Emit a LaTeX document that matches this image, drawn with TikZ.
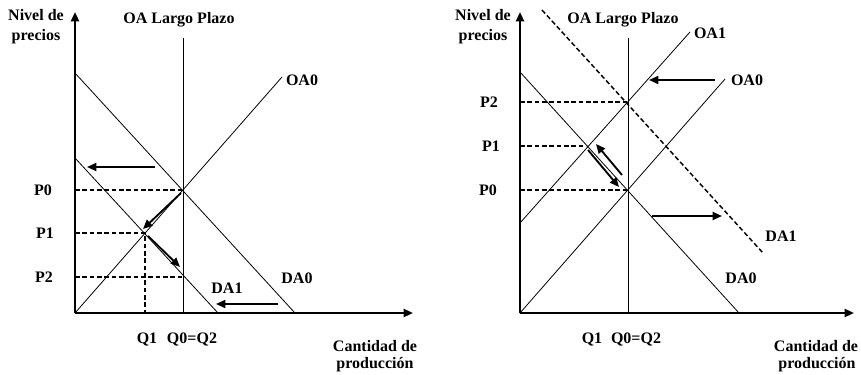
\documentclass[tikz,border=0pt]{standalone}
\usepackage{fontspec}
\setmainfont{Liberation Serif}
\usepackage{tikz}
\usetikzlibrary{positioning,arrows.meta}

\tikzset{
  curve/.style={line width=0.6pt},
  axis/.style={line width=1.6pt, -{Triangle[length=7pt,width=6pt]}},
  movearrow/.style={line width=1.4pt, -{Triangle[length=7pt,width=6pt]}},
  guide/.style={line width=1.1pt, dash pattern=on 3.5pt off 2pt},
  lbl/.style={font=\bfseries\fontsize{12}{13}\selectfont, inner sep=0pt}
}

\begin{document}
\begin{tikzpicture}[x=0.75pt, y=-0.75pt]
\useasboundingbox (0,0) rectangle (861,375);

% left panel: demand falls
\coordinate (oL) at (75,313);
\coordinate (eL0) at (183,190);
\coordinate (eL1) at (145,233);
\coordinate (eL2) at (183,277);
\draw[curve] (183,38) -- (183,313);
\draw[curve] (oL) -- (282,77);
\draw[curve] (75,73) -- (295,313);
\draw[curve] (75,158) -- (218,313);
\draw[guide] (75,190) -- (eL0);
\draw[guide] (75,233) -- (eL1) -- (145,313);
\draw[guide] (75,277) -- (eL2);
\draw[axis] (oL) -- (75,12);
\draw[axis] (oL) -- (413,313);
\draw[movearrow] (155,167) -- (87,167);
\draw[movearrow] (181,193) -- (143,229);
\draw[movearrow] (148,236) -- (180,267);
\draw[movearrow] (278,304) -- (216,304);

\node[lbl] (nivL) at (36,15) {Nivel de};
\node[lbl] (preL) at (36,37) {precios};
\node[lbl] (lpL) at (179,20) {OA Largo Plazo};
\node[lbl] (oa0L) at (302,80) {OA0};
\node[lbl] (da0L) at (297,278) {DA0};
\node[lbl] (da1L) at (227,288) {DA1};
\node[lbl] (p0L) at (43,190) {P0};
\node[lbl] (p1L) at (45,233) {P1};
\node[lbl] (p2L) at (44,277) {P2};
\node[lbl] (q1L) at (147,339) {Q1};
\node[lbl] (q0L) at (192,339) {Q0=Q2};
\node[lbl] (canL) at (375,346) {Cantidad de};
\node[lbl] (proL) at (375,365) {producción};

% right panel: demand rises
\coordinate (oR) at (520,313);
\coordinate (eR0) at (628,190);
\coordinate (eR1) at (586,146);
\coordinate (eR2) at (628,102);
\draw[curve] (628,38) -- (628,313);
\draw[curve] (oR) -- (725,79);
\draw[curve] (520,223) -- (690,32);
\draw[curve] (520,72) -- (739,313);
\draw[guide] (542,10) -- (763,253);
\draw[guide] (520,102) -- (eR2);
\draw[guide] (520,146) -- (eR1);
\draw[guide] (520,190) -- (eR0);
\draw[axis] (oR) -- (520,12);
\draw[axis] (oR) -- (854,313);
\draw[movearrow] (715,80) -- (649,80);
\draw[movearrow] (652,216) -- (722,216);
\draw[movearrow] (622,175) -- (596,144);
\draw[movearrow] (588,150) -- (619,187);

\node[lbl] (nivR) at (483,15) {Nivel de};
\node[lbl] (preR) at (483,37) {precios};
\node[lbl] (lpR) at (623,20) {OA Largo Plazo};
\node[lbl] (oa1R) at (710,33) {OA1};
\node[lbl] (oa0R) at (747,80) {OA0};
\node[lbl] (da1R) at (781,236) {DA1};
\node[lbl] (da0R) at (741,278) {DA0};
\node[lbl] (p2R) at (489,102) {P2};
\node[lbl] (p1R) at (491,146) {P1};
\node[lbl] (p0R) at (488,190) {P0};
\node[lbl] (q1R) at (592,339) {Q1};
\node[lbl] (q0R) at (636,339) {Q0=Q2};
\node[lbl] (canR) at (816,346) {Cantidad de};
\node[lbl] (proR) at (817,365) {producción};
\end{tikzpicture}
\end{document}
